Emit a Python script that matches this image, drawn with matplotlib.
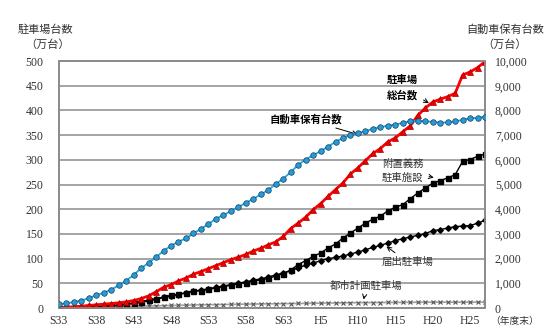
import numpy as np
import matplotlib.pyplot as plt
from matplotlib.ticker import FuncFormatter

plt.rcParams['font.family'] = ['Noto Sans CJK JP', 'DejaVu Sans']

# fiscal years S33 (1958) .. H27 (2015)
years = list(range(1958, 2016))
tick_years = [1958, 1963, 1968, 1973, 1978, 1983, 1988, 1993, 1998, 2003, 2008, 2013]
tick_labels = ['S33', 'S38', 'S43', 'S48', 'S53', 'S58', 'S63', 'H5', 'H10', 'H15', 'H20', 'H25']

# 自動車保有台数 (万台, right axis)
vehicles = [162, 190, 246, 306, 400, 520, 620, 750, 920, 1110, 1340, 1610, 1830, 2060,
            2320, 2520, 2690, 2820, 3020, 3210, 3400, 3620, 3760, 3930, 4090, 4260, 4420,
            4600, 4780, 5020, 5240, 5500, 5800, 6010, 6190, 6350, 6540, 6730, 6890, 7000,
            7080, 7160, 7260, 7320, 7390, 7430, 7500, 7560, 7590, 7560, 7540, 7510, 7520,
            7560, 7620, 7680, 7700, 7750]

# 駐車場総台数 (万台)
total = [0.7, 2, 2.7, 4, 5.3, 6.7, 8, 9.3, 10.7, 12.7, 15.3, 19.3, 24.7, 33, 42, 47.5,
         55, 60.8, 68.5, 74, 80, 86, 92, 98, 103, 108.5, 115.5, 121, 128, 134, 145, 161,
         172, 184, 199, 211.5, 226, 240, 253.5, 271.5, 284, 298.5, 313, 323, 336.5, 344.6,
         357, 369, 390, 405, 417, 423, 428, 435, 472, 478, 487, 499]

# 附置義務駐車施設 (万台)
attached = [0.3, 0.5, 0.8, 1.2, 1.7, 2.3, 3.3, 4.5, 6, 8, 10.5, 13, 16, 19, 22.5, 25.5,
            28, 31, 33.8, 35.5, 38, 40.5, 43.5, 46.5, 49, 51.5, 54.5, 57, 60, 65, 70, 77,
            88, 96, 104.7, 111.5, 121.6, 129.7, 142, 152, 162, 172, 180, 186, 197, 204,
            209.5, 221.6, 233, 243, 253, 258, 263.5, 270, 297, 300.7, 307.4, 312]

# 届出駐車場 (万台)
notified = [0.5, 0.8, 1.2, 1.7, 2.3, 3, 3.8, 4.8, 6, 7.5, 9.5, 12, 15, 18, 21.5, 24.5,
            27.5, 31, 34, 36.5, 39, 42, 44.5, 47.5, 50.5, 53, 56.5, 59, 63, 67, 71, 75.5,
            82, 86.5, 91, 96, 100, 102.7, 105.4, 109.5, 113.5, 118, 123, 127, 131.8, 136.5,
            140.5, 144, 147.3, 150.7, 156.8, 158.8, 162, 165, 166, 167, 172, 177.7]

# 都市計画駐車場 (万台)
city = [0.5, 0.8, 1, 1.3, 1.6, 2, 2.3, 2.7, 3, 3.3, 3.6, 4, 4.3, 4.6, 5, 5.3, 5.6, 6,
        6.2, 6.5, 6.8, 7, 7.2, 7.5, 7.7, 8, 8.2, 8.4, 8.6, 8.8, 9, 9.2, 9.4, 9.6, 9.8, 10,
        10.2, 10.4, 10.6, 10.8, 11, 11.1, 11.2, 11.3, 11.4, 11.5, 11.6, 11.7, 11.8, 11.9,
        12, 12, 12, 12, 12, 12, 12, 12]

fig = plt.figure(figsize=(5.5, 3.32), dpi=100)
ax = fig.add_axes([0.107, 0.072, 0.775, 0.744])
ax2 = ax.twinx()

grid_c = '#8c8c8c'
ax.set_xlim(1958, 2015)
ax.set_ylim(0, 500)
ax.set_yticks(range(0, 501, 50))
ax.grid(axis='y', color=grid_c, linewidth=1.1)
ax.set_axisbelow(True)
ax2.set_ylim(0, 10000)
ax2.set_yticks(range(0, 10001, 1000))
ax2.yaxis.set_major_formatter(FuncFormatter(lambda v, p: f'{int(v):,}'))

ax.set_xticks(tick_years)
ax.set_xticklabels(tick_labels)
for a in (ax, ax2):
    for s in a.spines.values():
        s.set_color(grid_c)
        s.set_linewidth(1.3)
    a.tick_params(length=0, labelsize=8.5, colors='#333333')
    for lab in a.get_yticklabels() + a.get_xticklabels():
        lab.set_family(['Liberation Serif', 'DejaVu Serif'])
ax.tick_params(axis='y', pad=11)
ax.tick_params(axis='x', pad=5)
ax2.tick_params(axis='y', pad=7)

ax.plot(years, city, color='#a0a0a0', lw=1.2, marker='x', ms=3.2, mec='#555555', mew=0.8, zorder=3)
ax.plot(years, notified, color='black', lw=1, marker='D', ms=2.8, zorder=4)
ax.plot(years, attached, color='black', lw=1, marker='s', ms=3.6, zorder=4)
ax.plot(years, total, color='#ff0000', lw=2, marker='^', ms=5, mfc='#ee0000', mec='#aa0000', mew=0.5, zorder=5)
ax2.plot(years, vehicles, color='#1ea8e0', lw=1.3, marker='o', ms=4, mfc='#2a9ad6', mec='#104060', mew=0.5, zorder=5)

arrow = dict(arrowstyle='->', color='black', lw=0.7)
ax.annotate('駐車場\n総台数', xy=(2007.8, 412), xytext=(2004, 446), fontsize=7.5, fontweight='bold',
            ha='center', va='center', linespacing=1.7, arrowprops=arrow)
ax2.annotate('自動車保有台数', xy=(1998.3, 7000), xytext=(1991, 7650), fontsize=7.5, fontweight='bold',
             ha='center', va='center', arrowprops=arrow)
ax.annotate('附置義務\n駐車施設', xy=(2008.5, 263), xytext=(2004, 278), fontsize=7.5,
            ha='center', va='center', linespacing=1.5, color='#333333', arrowprops=arrow)
ax.annotate('届出駐車場', xy=(2001.5, 128), xytext=(2004.7, 93), fontsize=7.5,
            ha='center', va='center', color='#333333', arrowprops=arrow)
ax.annotate('都市計画駐車場', xy=(1998.7, 12), xytext=(1999.1, 45), fontsize=7.5,
            ha='center', va='center', color='#333333', arrowprops=arrow)

fig.text(45 / 550, 1 - 30 / 332, '駐車場台数', fontsize=8, ha='center', va='center', color='#333333')
fig.text(48 / 550, 1 - 45 / 332, '（万台）', fontsize=8, ha='center', va='center', color='#333333')
fig.text(505 / 550, 1 - 30 / 332, '自動車保有台数', fontsize=8, ha='center', va='center', color='#333333')
fig.text(505 / 550, 1 - 45 / 332, '（万台）', fontsize=8, ha='center', va='center', color='#333333')
fig.text(515 / 550, 1 - 321 / 332, '（年度末）', fontsize=7, ha='center', va='center', color='#333333')

fig.savefig('out.png', dpi=100)
